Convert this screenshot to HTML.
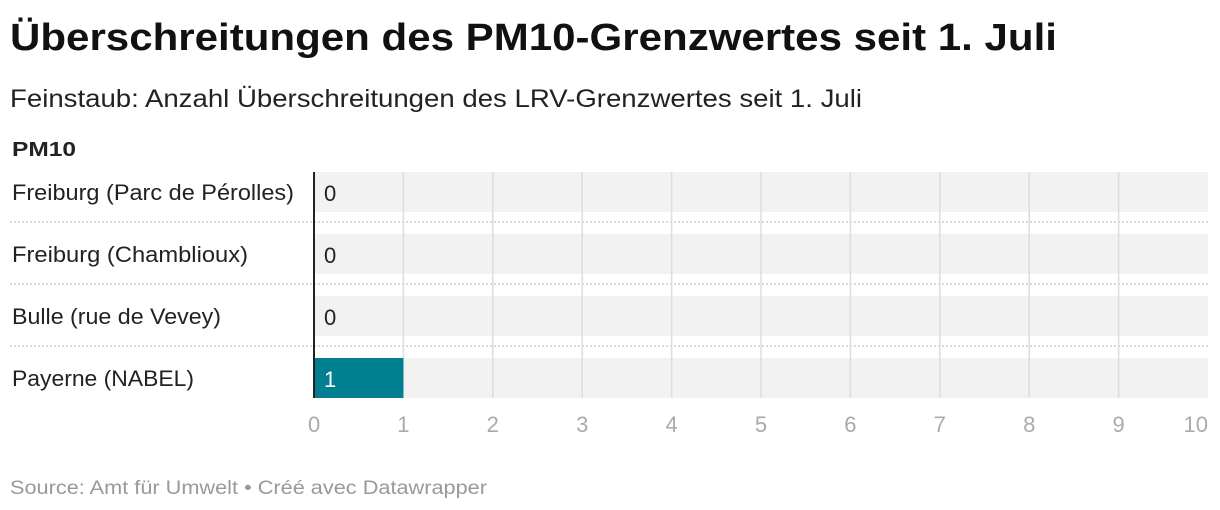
<!DOCTYPE html>
<html><head><meta charset="utf-8"><style>
body{margin:0;background:#fff;}
svg{display:block;font-family:"Liberation Sans",sans-serif;}
</style></head><body>
<svg id="chart" width="1220" height="510" viewBox="0 0 1220 510">
<text x="10" y="50" font-size="38" font-weight="bold" fill="#111" textLength="1047" lengthAdjust="spacingAndGlyphs">Überschreitungen des PM10-Grenzwertes seit 1. Juli</text>
<text x="10" y="107" font-size="25" fill="#222" textLength="852" lengthAdjust="spacingAndGlyphs">Feinstaub: Anzahl Überschreitungen des LRV-Grenzwertes seit 1. Juli</text>
<text x="12" y="156" font-size="20" font-weight="bold" fill="#222" textLength="64" lengthAdjust="spacingAndGlyphs">PM10</text>
<g id="plot"></g>
<text x="10" y="494" font-size="19" fill="#999" textLength="477" lengthAdjust="spacingAndGlyphs">Source: Amt für Umwelt • Créé avec Datawrapper</text>
</svg>
<script>
const categories=["Freiburg (Parc de Pérolles)","Freiburg (Chamblioux)","Bulle (rue de Vevey)","Payerne (NABEL)"];
const values=[0,0,0,1];
const ticks=[0,1,2,3,4,5,6,7,8,9,10];
const labelWidths=[282,236,209,182];
const NS="http://www.w3.org/2000/svg";
const g=document.getElementById('plot');
const x0=314,x1=1208,xMax=10;
const xs=v=>x0+(x1-x0)*v/xMax;
const rowTop=i=>172+i*62;
const rowH=40;
function mk(t,a){const e=document.createElementNS(NS,t);for(const k in a)e.setAttribute(k,a[k]);g.appendChild(e);return e;}
categories.forEach((c,i)=>{
  const bg=mk('rect',{x:x0,y:rowTop(i),width:x1-x0,height:rowH,fill:'#f2f2f2'});
  
  
  if(i<categories.length-1){
    const sep=mk('line',{x1:10,x2:x1,y1:rowTop(i)+50,y2:rowTop(i)+50,stroke:'#ccc','stroke-width':1.5,'stroke-dasharray':'2,2'});
    
    
  }
});
ticks.forEach((t,j)=>{
  if(t>0&&t<xMax){
    const gl=mk('line',{x1:xs(t),x2:xs(t),y1:rowTop(0),y2:rowTop(categories.length-1)+rowH,stroke:'#ddd','stroke-width':1.5});
    
    
  }
  const anchor=t===xMax?'end':(t===0?'start':'middle');
  const tx=mk('text',{x:t===0?xs(t)-6:xs(t),y:432,'font-size':22,fill:'#aaa','text-anchor':anchor});
  tx.textContent=t;
  
  
});
categories.forEach((c,i)=>{
  const lab=mk('text',{x:12,y:rowTop(i)+28,'font-size':22,fill:'#222',textLength:labelWidths[i],lengthAdjust:'spacingAndGlyphs'});
  lab.textContent=c;
  
  
  const w=xs(values[i])-x0;
  if(w>0){
    const b=mk('rect',{x:x0,y:rowTop(i),width:w,height:rowH,fill:'#007f91'});
    
    
  }
  const inside=w>30;
  const v=mk('text',{x:x0+10,y:rowTop(i)+29,'font-size':22,fill:inside?'#fff':'#222'});
  v.textContent=values[i];
  
  
});
const ax=mk('line',{x1:x0,x2:x0,y1:rowTop(0),y2:rowTop(categories.length-1)+rowH,stroke:'#222','stroke-width':2});


</script>
</body></html>
